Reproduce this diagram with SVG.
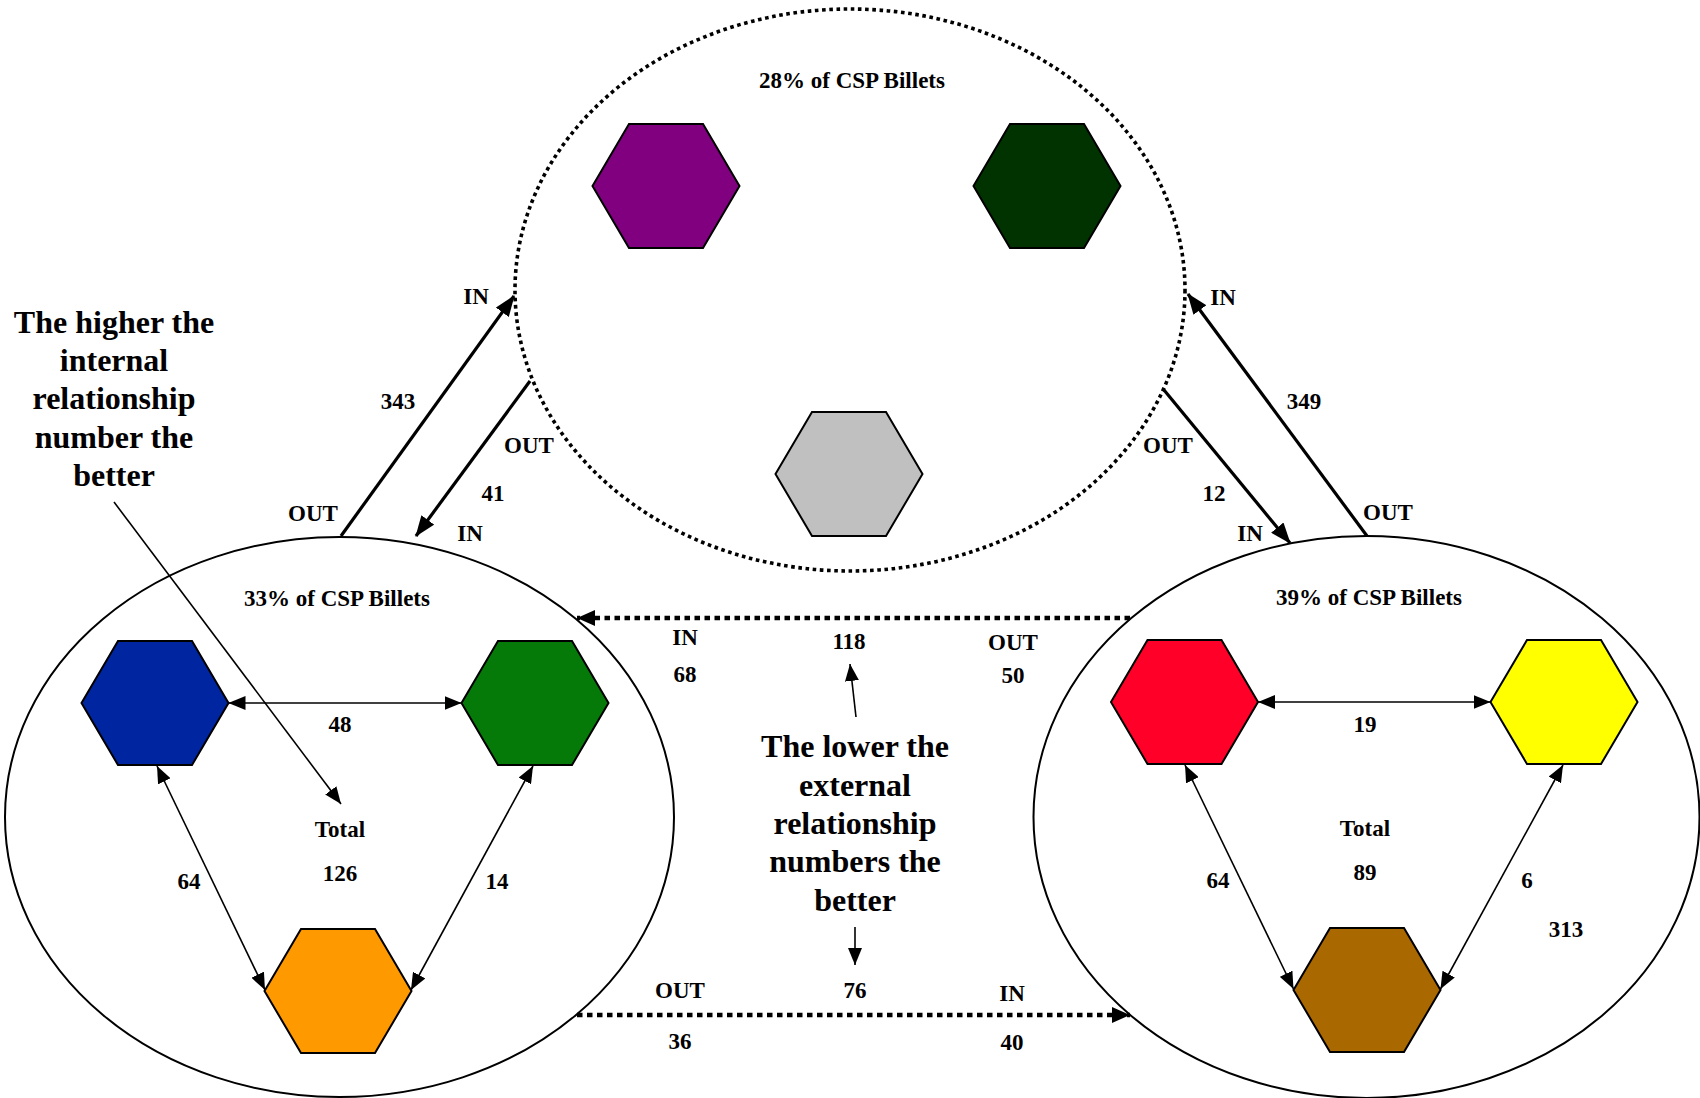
<svg xmlns="http://www.w3.org/2000/svg" width="1700" height="1098" viewBox="0 0 1700 1098">
<style>
text{font-family:"Liberation Serif","Times New Roman",serif;font-weight:bold;fill:#000;text-anchor:middle}
.lbl{font-size:23px}
.big{font-size:32px}
.hex{stroke:#000;stroke-width:2}
.grp{fill:none;stroke:#000;stroke-width:2}
.dot{fill:none;stroke:#000;stroke-width:3.6;stroke-dasharray:3.6 3.6}
.thick{fill:none;stroke:#000;stroke-width:3.2}
.thin{fill:none;stroke:#000;stroke-width:1.6}
.dash{fill:none;stroke:#000;stroke-width:4.5;stroke-dasharray:5.5 4.5}
</style>
<defs>
<polygon id="hx" points="-73.5,0 -37,-62 37,-62 73.5,0 37,62 -37,62"/>
<marker id="ab" markerUnits="userSpaceOnUse" markerWidth="21" markerHeight="16" viewBox="0 0 21 16" refX="20" refY="8" orient="auto-start-reverse"><path d="M0,0 L21,8 L0,16 z" fill="#000"/></marker>
<marker id="as" markerUnits="userSpaceOnUse" markerWidth="17" markerHeight="14" viewBox="0 0 17 14" refX="17" refY="7" orient="auto-start-reverse"><path d="M0,0 L17,7 L0,14 z" fill="#000"/></marker>
<marker id="ad" markerUnits="userSpaceOnUse" markerWidth="18" markerHeight="16" viewBox="0 0 18 16" refX="18" refY="8" orient="auto"><path d="M0,0 L18,8 L0,16 z" fill="#000"/></marker>
</defs>

<g id="group-top">
<ellipse class="dot" cx="850" cy="290" rx="335" ry="281"/>
<text class="lbl" x="852" y="88">28% of CSP Billets</text>
</g>
<g id="group-left">
<ellipse class="grp" cx="339.5" cy="817" rx="334.5" ry="280"/>
<text class="lbl" x="337" y="606">33% of CSP Billets</text>
<text class="lbl" x="340" y="837">Total</text>
<text class="lbl" x="340" y="881">126</text>
</g>
<g id="group-right">
<ellipse class="grp" cx="1366.5" cy="817" rx="333" ry="281"/>
<text class="lbl" x="1369" y="605">39% of CSP Billets</text>
<text class="lbl" x="1365" y="836">Total</text>
<text class="lbl" x="1365" y="880">89</text>
<text class="lbl" x="1566" y="937">313</text>
</g>

<g id="hex-purple"><use href="#hx" class="hex" fill="#800080" x="666" y="186"/></g>
<g id="hex-darkgreen"><use href="#hx" class="hex" fill="#003300" x="1047" y="186"/></g>
<g id="hex-gray"><use href="#hx" class="hex" fill="#C0C0C0" x="849" y="474"/></g>
<g id="hex-blue"><use href="#hx" class="hex" fill="#0025A0" x="155" y="703"/></g>
<g id="hex-green"><use href="#hx" class="hex" fill="#057A08" x="535" y="703"/></g>
<g id="hex-orange"><use href="#hx" class="hex" fill="#FF9900" x="338" y="991"/></g>
<g id="hex-red"><use href="#hx" class="hex" fill="#FF0028" x="1184.5" y="702"/></g>
<g id="hex-yellow"><use href="#hx" class="hex" fill="#FFFF00" x="1564" y="702"/></g>
<g id="hex-brown"><use href="#hx" class="hex" fill="#AA6800" x="1367" y="990"/></g>

<g id="connectors">
<line class="thick" x1="341" y1="536" x2="514" y2="296" marker-end="url(#ab)"/>
<line class="thick" x1="530" y1="381" x2="416" y2="536" marker-end="url(#ab)"/>
<line class="thick" x1="1367" y1="536" x2="1188" y2="294" marker-end="url(#ab)"/>
<line class="thick" x1="1164" y1="390" x2="1290" y2="543" marker-end="url(#ab)"/>
<line class="dash" x1="1130" y1="618" x2="577" y2="618" marker-end="url(#ad)"/>
<line class="dash" x1="577" y1="1015" x2="1130" y2="1015" marker-end="url(#ad)"/>
<line class="thin" x1="228.5" y1="703" x2="461.5" y2="703" marker-start="url(#as)" marker-end="url(#as)"/>
<line class="thin" x1="157" y1="766" x2="265" y2="990" marker-start="url(#as)" marker-end="url(#as)"/>
<line class="thin" x1="533" y1="766" x2="411" y2="990" marker-start="url(#as)" marker-end="url(#as)"/>
<line class="thin" x1="1258" y1="702" x2="1490.5" y2="702" marker-start="url(#as)" marker-end="url(#as)"/>
<line class="thin" x1="1185" y1="765" x2="1293.5" y2="989" marker-start="url(#as)" marker-end="url(#as)"/>
<line class="thin" x1="1563" y1="765" x2="1440.5" y2="989" marker-start="url(#as)" marker-end="url(#as)"/>
<line class="thin" x1="114" y1="502" x2="341" y2="804" marker-end="url(#as)"/>
<line class="thin" x1="856" y1="717" x2="850" y2="664" marker-end="url(#as)"/>
<line class="thin" x1="855" y1="927" x2="855" y2="965" marker-end="url(#as)"/>
</g>

<g id="labels">
<text class="lbl" x="476" y="304">IN</text>
<text class="lbl" x="398" y="409">343</text>
<text class="lbl" x="529" y="453">OUT</text>
<text class="lbl" x="493" y="501">41</text>
<text class="lbl" x="313" y="521">OUT</text>
<text class="lbl" x="470" y="541">IN</text>
<text class="lbl" x="1223" y="305">IN</text>
<text class="lbl" x="1304" y="409">349</text>
<text class="lbl" x="1168" y="453">OUT</text>
<text class="lbl" x="1214" y="501">12</text>
<text class="lbl" x="1250" y="541">IN</text>
<text class="lbl" x="1388" y="520">OUT</text>
<text class="lbl" x="685" y="645">IN</text>
<text class="lbl" x="685" y="682">68</text>
<text class="lbl" x="849" y="649">118</text>
<text class="lbl" x="1013" y="650">OUT</text>
<text class="lbl" x="1013" y="683">50</text>
<text class="lbl" x="680" y="998">OUT</text>
<text class="lbl" x="855" y="998">76</text>
<text class="lbl" x="1012" y="1001">IN</text>
<text class="lbl" x="680" y="1049">36</text>
<text class="lbl" x="1012" y="1050">40</text>
<text class="lbl" x="340" y="732">48</text>
<text class="lbl" x="189" y="889">64</text>
<text class="lbl" x="497" y="889">14</text>
<text class="lbl" x="1365" y="732">19</text>
<text class="lbl" x="1218" y="888">64</text>
<text class="lbl" x="1527" y="888">6</text>
<text class="big" x="114" y="333">The higher the</text>
<text class="big" x="114" y="371">internal</text>
<text class="big" x="114" y="409">relationship</text>
<text class="big" x="114" y="448">number the</text>
<text class="big" x="114" y="486">better</text>
<text class="big" x="855" y="757">The lower the</text>
<text class="big" x="855" y="796">external</text>
<text class="big" x="855" y="834">relationship</text>
<text class="big" x="855" y="872">numbers the</text>
<text class="big" x="855" y="911">better</text>
</g>
</svg>
